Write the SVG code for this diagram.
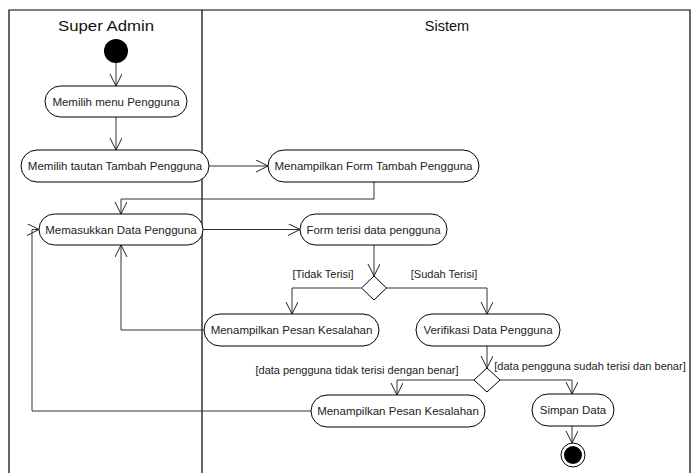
<svg xmlns="http://www.w3.org/2000/svg" width="694" height="473" viewBox="0 0 694 473">
<defs>
<marker id="arr" markerUnits="userSpaceOnUse" markerWidth="14" markerHeight="14" refX="12" refY="6" orient="auto">
<path d="M0,0 L12,6 L0,12" fill="none" stroke="#222" stroke-width="1"/>
</marker>
<style>
.lane{fill:none;stroke:#000;stroke-width:1.2}
.hdr{font-family:"Liberation Sans",Arial,sans-serif;font-size:14.5px;fill:#111;text-anchor:middle}
.act rect{fill:#fff;stroke:#000;stroke-width:1}
.act text{font-family:"Liberation Sans",Arial,sans-serif;font-size:11.5px;fill:#222;text-anchor:middle;dominant-baseline:central}
.dec polygon{fill:#fff;stroke:#000;stroke-width:1}
.con{fill:none;stroke:#333;stroke-width:1;marker-end:url(#arr)}
.lbl{font-family:"Liberation Sans",Arial,sans-serif;font-size:11px;fill:#222;text-anchor:middle;dominant-baseline:central}
</style>
</defs>
<rect width="694" height="473" fill="#fff"/>
<g id="swimlanes">
<path class="lane" d="M9,480 V10 H690 V480 M202,10 V480"/>
<text class="hdr" x="106" y="31" style="font-size:15px" textLength="96" lengthAdjust="spacingAndGlyphs">Super Admin</text>
<text class="hdr" x="447" y="31">Sistem</text>
</g>
<g id="connectors">
<path class="con" d="M116,63 V86"/>
<path class="con" d="M116,117 V150"/>
<path class="con" d="M209,166 H268"/>
<path class="con" d="M374,182 V199 H121 V214"/>
<path class="con" d="M203,229.5 H300"/>
<path class="con" d="M374,245 V276"/>
<path class="con" d="M361,288 H292 V314"/>
<path class="con" d="M386,288 H487 V314"/>
<path class="con" d="M204,330 H121 V245"/>
<path class="con" d="M487,346 V368"/>
<path class="con" d="M474,380 H397 V395"/>
<path class="con" d="M500,380 H572 V394"/>
<path class="con" d="M311,411 H32 V229.5 H39"/>
<path class="con" d="M572,426 V443"/>
<text class="lbl" x="323" y="274">[Tidak Terisi]</text>
<text class="lbl" x="444" y="274">[Sudah Terisi]</text>
<text class="lbl" x="357" y="370">[data pengguna tidak terisi dengan benar]</text>
<text class="lbl" x="590" y="366">[data pengguna sudah terisi dan benar]</text>
</g>
<g id="start"><circle cx="116" cy="51" r="12" fill="#000"/></g>
<g id="n1" class="act"><rect x="45" y="86" width="142" height="31" rx="15.5"/><text x="116" y="101.5">Memilih menu Pengguna</text></g>
<g id="n2" class="act"><rect x="21" y="150" width="188" height="32" rx="16"/><text x="115" y="166">Memilih tautan Tambah Pengguna</text></g>
<g id="n3" class="act"><rect x="268" y="150" width="211" height="32" rx="16"/><text x="373.5" y="166">Menampilkan Form Tambah Pengguna</text></g>
<g id="n4" class="act"><rect x="39" y="214" width="164" height="31" rx="15.5"/><text x="121" y="229.5">Memasukkan Data Pengguna</text></g>
<g id="n5" class="act"><rect x="300" y="214" width="147" height="31" rx="15.5"/><text x="373.5" y="229.5">Form terisi data pengguna</text></g>
<g id="d1" class="dec"><polygon points="374,276 386.5,288 374,300 361.5,288"/></g>
<g id="n6" class="act"><rect x="204" y="314" width="175" height="32" rx="16"/><text x="291.5" y="330">Menampilkan Pesan Kesalahan</text></g>
<g id="n7" class="act"><rect x="416" y="314" width="144" height="32" rx="16"/><text x="488" y="330">Verifikasi Data Pengguna</text></g>
<g id="d2" class="dec"><polygon points="487,368 500,380 487,392 474,380"/></g>
<g id="n8" class="act"><rect x="311" y="395" width="174" height="32" rx="16"/><text x="398" y="411">Menampilkan Pesan Kesalahan</text></g>
<g id="n9" class="act"><rect x="532" y="394" width="82" height="32" rx="16"/><text x="573" y="410">Simpan Data</text></g>
<g id="end"><circle cx="573" cy="455" r="12" fill="#fff" stroke="#000" stroke-width="1"/><circle cx="573" cy="455" r="9" fill="#000"/></g>
</svg>
